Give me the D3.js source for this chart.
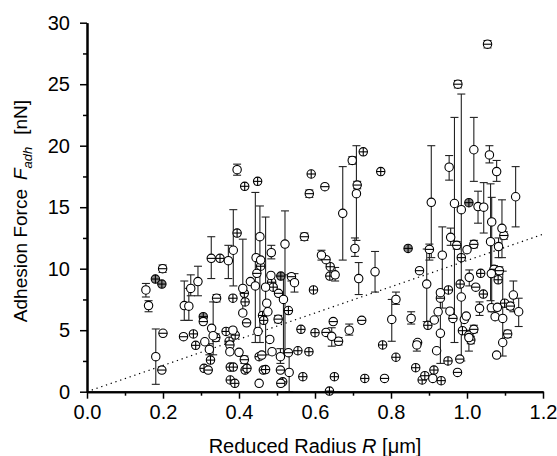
<!DOCTYPE html>
<html><head><meta charset="utf-8">
<script src="https://cdn.jsdelivr.net/npm/d3@7"></script>
<style>
html,body{margin:0;padding:0;background:#fff;}
svg text{font-family:Arial,"Liberation Sans",sans-serif;fill:#000;}
</style></head>
<body><svg id="c" width="557" height="456"></svg>
<script>
// [x (µm), y (nN), errLow, errHigh]  (null = no error bar)
const openCircles = [
[0.155,8.27,7.7,8.8],[0.162,7.0,6.5,7.4],[0.181,2.85,0.6,5.1],[0.256,7.0,5.8,9.0],[0.268,6.95,5.8,8.4],
[0.273,8.4,7.8,9.5],[0.292,8.95,7.8,10.2],[0.31,4.06,null,null],[0.322,3.44,3.0,3.9],[0.328,5.15,null,null],
[0.332,4.55,3.0,7.3],[0.372,10.65,9.2,11.9],[0.376,3.25,null,null],[0.384,5.0,null,null],[0.385,11.5,8.6,14.8],
[0.395,18.05,17.6,18.5],[0.4,3.2,null,null],[0.41,8.4,6.3,12.4],[0.41,6.4,null,null],[0.43,8.95,null,null],
[0.443,8.6,4.0,16.2],[0.445,10.9,null,null],[0.45,4.9,null,null],[0.455,12.6,4.0,15.1],[0.457,10.7,null,null],
[0.453,0.68,null,null],[0.47,8.5,3.0,14.2],[0.473,7.2,null,null],[0.476,6.5,null,null],[0.481,4.25,null,null],
[0.484,9.45,null,null],[0.485,11.3,10.8,11.9],[0.487,3.25,null,null],[0.509,2.85,2.3,3.5],[0.517,7.5,3.0,9.5],
[0.521,12.0,3.0,14.7],[0.532,1.57,0,3.2],[0.546,8.86,8.1,9.6],[0.617,11.1,10.7,11.5],[0.644,4.5,3.7,5.2],
[0.653,9.5,9.0,10.1],[0.673,14.5,10.7,18.3],[0.69,5.0,4.6,5.5],[0.698,18.8,18.5,19.1],[0.705,11.65,11.0,12.5],
[0.709,16.1,12.3,20.0],[0.715,9.2,7.9,10.5],[0.758,9.75,8.1,11.4],[0.802,5.88,4.1,7.5],[0.813,7.5,7.1,8.1],
[0.853,5.96,5.5,6.5],[0.868,3.8,3.3,4.1],[0.894,8.75,5.7,11.6],[0.906,15.4,10.9,20.0],[0.91,1.08,null,null],
[0.914,5.83,null,null],[0.92,3.33,null,null],[0.924,6.5,null,null],[0.93,4.75,2.3,7.6],[0.935,11.1,6.8,13.4],
[0.93,8.05,null,null],[0.953,18.25,17.2,19.2],[0.955,6.55,null,null],[0.957,12.55,11.9,13.3],[0.967,15.3,4.0,22.3],
[0.985,14.8,2.5,24.2],[0.985,7.7,null,null],[0.993,5.88,null,null],[0.998,6.15,null,null],[1.0,11.55,null,null],
[1.006,9.3,8.6,9.9],[1.005,4.4,3.3,5.0],[1.018,19.67,17.1,22.3],[1.029,15.05,13.7,16.3],[1.033,6.78,6.2,7.3],
[1.044,15.0,12.9,17.0],[1.059,19.25,18.6,20.0],[1.062,12.2,7.4,16.9],[1.065,13.8,6.5,15.8],[1.064,6.83,null,null],
[1.064,9.6,null,null],[1.074,6.1,null,null],[1.078,17.9,17.1,18.8],[1.083,11.8,10.9,12.5],[1.08,6.86,null,null],
[1.078,2.98,null,null],[1.092,13.28,10.9,15.6],[1.094,5.96,2.9,9.8],[1.094,4.0,null,null],[1.122,7.86,6.5,9.0],
[1.128,15.85,13.4,18.3],[1.136,6.5,5.3,7.6]
];
const minusCircles = [
[0.199,10.0,9.7,10.3],[0.2,4.75,null,null],[0.197,1.76,null,null],[0.254,4.47,null,null],[0.306,5.7,null,null],
[0.319,1.76,null,null],[0.327,10.84,9.2,12.6],[0.339,4.4,4.1,4.7],[0.341,7.6,7.3,7.9],[0.376,3.8,null,null],
[0.414,2.6,2.3,2.9],[0.42,5.6,null,null],[0.447,9.62,null,null],[0.46,2.98,null,null],[0.504,8.0,null,null],
[0.503,5.9,5.6,6.2],[0.509,1.76,null,null],[0.51,0.68,null,null],[0.53,3.17,null,null],[0.538,9.35,9.0,9.6],
[0.572,12.6,12.3,12.9],[0.585,16.1,15.8,16.4],[0.626,16.67,null,null],[0.629,10.73,null,null],[0.629,4.82,null,null],
[0.648,5.7,null,null],[0.662,4.1,3.8,4.4],[0.711,16.8,16.5,17.1],[0.723,5.8,null,null],[0.783,1.08,null,null],
[0.87,4.0,null,null],[0.875,9.84,null,null],[0.901,11.57,10.7,12.0],[0.93,7.6,null,null],[0.963,5.96,null,null],
[0.973,11.9,11.6,12.2],[0.976,25.0,24.7,25.3],[0.975,1.57,null,null],[0.981,2.65,null,null],[1.005,4.6,4.3,4.9],
[1.01,4.2,3.9,4.5],[1.018,5.07,4.8,5.4],[1.018,11.98,11.7,12.3],[1.023,8.5,null,null],[1.054,28.25,27.95,28.55],
[1.071,9.95,9.65,10.25],[1.085,9.84,9.55,10.15],[1.097,12.7,12.4,13.0],[1.107,4.7,4.4,5.0],[1.114,6.96,6.7,7.25]
];
const plusCircles = [
[0.28,4.7],[0.286,3.77],[0.308,1.9],[0.325,2.57],[0.35,10.84],[0.366,4.9],[0.374,4.1],[0.377,2.0],[0.377,0.95],
[0.389,0.68],[0.384,7.6],[0.385,2.0],[0.39,4.6],[0.395,12.9],[0.415,16.7],[0.414,8.0],[0.416,7.3],[0.416,1.76],
[0.421,1.9],[0.449,17.1],[0.453,2.85],[0.457,10.2],[0.462,6.2],[0.465,5.8],[0.464,1.76],[0.47,1.8],[0.486,8.9],
[0.49,8.5],[0.515,0.8],[0.53,6.6],[0.555,3.33],[0.563,5.07],[0.568,1.22],[0.584,3.25],[0.59,17.7],[0.596,8.27],
[0.6,4.8],[0.638,0.05],[0.64,10.16],[0.639,9.4],[0.651,1.22],[0.727,19.5],[0.731,1.08],[0.773,17.9],[0.778,3.8],
[0.813,2.8],[0.865,1.95],[0.882,0.95],[0.889,1.3],[0.897,5.4],[0.913,1.76],[0.932,0.9],[0.95,2.5],[0.951,8.27],
[0.985,10.9],[0.982,8.75],[0.988,4.96],[1.036,9.62],[1.043,7.94],[1.082,9.1],[1.099,7.2]
];
const grayCircles = [[0.18,9.16],[0.197,8.75],[0.306,6.1],[0.51,9.4],[0.845,11.65],[1.005,15.37]];
const fitLine = [[0,0],[1.2,12.8]];
const xTicks = [0,0.2,0.4,0.6,0.8,1.0,1.2];
const xMinor = [0.1,0.3,0.5,0.7,0.9,1.1];
const yTicks = [0,5,10,15,20,25,30];
const yMinor = [2.5,7.5,12.5,17.5,22.5,27.5];

const svg = d3.select("#c");
const x = d3.scaleLinear().domain([0,1.2]).range([87,543]);
const y = d3.scaleLinear().domain([0,30]).range([391.7,22.7]);
const R = 4.2;

// dotted fit line
svg.append("path").attr("d", d3.line().x(d=>x(d[0])).y(d=>y(d[1]))(fitLine))
  .attr("fill","none").attr("stroke","#000").attr("stroke-width",1.2).attr("stroke-dasharray","1.3,3.7");

function errBars(data){
  const g = svg.append("g").attr("stroke","#222").attr("stroke-width",1.1);
  data.filter(d=>d[2]!==null).forEach(d=>{
    const cx = x(d[0]);
    g.append("line").attr("x1",cx).attr("x2",cx).attr("y1",y(d[2])).attr("y2",y(d[3]));
    g.append("line").attr("x1",cx-4).attr("x2",cx+4).attr("y1",y(d[2])).attr("y2",y(d[2]));
    g.append("line").attr("x1",cx-4).attr("x2",cx+4).attr("y1",y(d[3])).attr("y2",y(d[3]));
  });
}
function markers(data, kind){
  const g = svg.append("g");
  data.forEach(d=>{
    const cx=x(d[0]), cy=y(d[1]);
    g.append("circle").attr("cx",cx).attr("cy",cy).attr("r",R)
      .attr("fill", kind==="gray" ? "#8a8a8a" : "#fff").attr("stroke","#000").attr("stroke-width",1.1);
    if(kind!=="open"){
      g.append("line").attr("x1",cx-R).attr("x2",cx+R).attr("y1",cy).attr("y2",cy).attr("stroke","#000").attr("stroke-width",1.1);
    }
    if(kind==="plus"||kind==="gray"){
      g.append("line").attr("x1",cx).attr("x2",cx).attr("y1",cy-R).attr("y2",cy+R).attr("stroke","#000").attr("stroke-width",1.1);
    }
  });
}
errBars(openCircles); errBars(minusCircles);
markers(plusCircles,"plus"); markers(grayCircles,"gray");
markers(minusCircles,"minus"); markers(openCircles,"open");

// axes
const axG = svg.append("g");
axG.append("g").attr("transform","translate(0,391.7)")
  .call(d3.axisBottom(x).tickValues(xTicks).tickFormat(d3.format(".1f")).tickSize(7).tickSizeOuter(0).tickPadding(6));
axG.append("g").attr("transform","translate(0,391.7)")
  .call(d3.axisBottom(x).tickValues(xMinor).tickFormat("").tickSize(4).tickSizeOuter(0));
axG.append("g").attr("transform","translate(87,0)")
  .call(d3.axisLeft(y).tickValues(yTicks).tickFormat(d3.format("d")).tickSize(7).tickSizeOuter(0).tickPadding(10));
axG.append("g").attr("transform","translate(87,0)")
  .call(d3.axisLeft(y).tickValues(yMinor).tickFormat("").tickSize(4).tickSizeOuter(0));
axG.selectAll(".domain").attr("stroke","#000").attr("stroke-width",2);
axG.selectAll(".tick line").attr("stroke","#000").attr("stroke-width",1.5);
axG.selectAll(".tick text").attr("font-size",20).attr("font-family","Arial, 'Liberation Sans', sans-serif");

// titles
const xt = svg.append("text").attr("x",315).attr("y",453).attr("text-anchor","middle").attr("font-size",20);
xt.append("tspan").text("Reduced Radius ");
xt.append("tspan").attr("font-style","italic").text("R");
xt.append("tspan").text(" [\u03BCm]");

const yt = svg.append("text").attr("transform","translate(27,211) rotate(-90)").attr("text-anchor","middle").attr("font-size",19);
yt.append("tspan").text("Adhesion Force");
yt.append("tspan").attr("font-style","italic").attr("dx",9).text("F");
yt.append("tspan").attr("font-style","italic").attr("font-size",13).attr("dy",5).text("adh");
yt.append("tspan").attr("dy",-5).attr("dx",12).text("[nN]");
</script></body></html>
